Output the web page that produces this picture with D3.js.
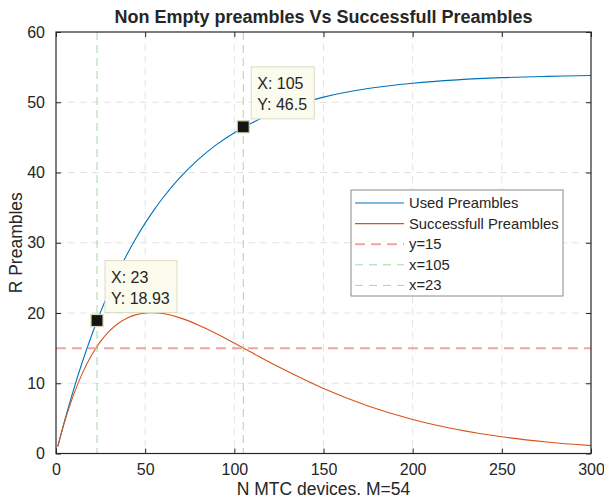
<!DOCTYPE html>
<html><head><meta charset="utf-8">
<script src="https://cdn.jsdelivr.net/npm/d3@7"></script>
<style>body{margin:0;background:#fff}svg{display:block}text{font-family:"Liberation Sans",Arial,sans-serif;fill:#262626}</style>
</head><body><svg id="c" width="604" height="501"></svg>
<script>
// ---- data ----
const nDevices = [1,5,10,15,20,25,30,35,40,45,50,55,60,70,80,90,100,110,125,150,175,200,225,250,275,300];
const usedPreambles = [1.00,4.82,9.21,13.20,16.84,20.16,23.18,25.93,28.43,30.71,32.79,34.68,36.41,39.41,41.90,43.96,45.67,47.09,48.78,50.73,51.95,52.71,53.19,53.50,53.68,53.80];
const successPreambles = [1.00,4.64,8.45,11.55,14.02,15.96,17.45,18.54,19.30,19.77,20.01,20.04,19.92,19.27,18.27,17.05,15.72,14.34,12.31,9.26,6.77,4.85,3.42,2.38,1.64,1.12];
const xTicks = [0,50,100,150,200,250,300];
const yTicks = [0,10,20,30,40,50,60];
const refY = 15;
const refX = [105, 23];
const dataTips = [{x:23, y:18.93, lx:"X: 23", ly:"Y: 18.93"},{x:105, y:46.5, lx:"X: 105", ly:"Y: 46.5"}];
const legendLabels = ["Used Preambles","Successfull Preambles","y=15","x=105","x=23"];

// ---- layout ----
const L=56, R=591, T=32, B=453.5;
const svg = d3.select("#c");
const x = d3.scaleLinear().domain([0,300]).range([L,R]);
const y = d3.scaleLinear().domain([0,60]).range([B,T]);

svg.append("defs").append("clipPath").attr("id","clip").append("rect")
  .attr("x",L).attr("y",T).attr("width",R-L).attr("height",B-T);

// grid
const g = svg.append("g");
g.selectAll(".gx").data(xTicks.slice(1,-1)).join("line")
  .attr("x1",d=>x(d)).attr("x2",d=>x(d)).attr("y1",T).attr("y2",B)
  .attr("stroke","#e3e3e3").attr("stroke-dasharray","7,5");
g.selectAll(".gy").data(yTicks.slice(1,-1)).join("line")
  .attr("y1",d=>y(d)).attr("y2",d=>y(d)).attr("x1",L).attr("x2",R)
  .attr("stroke","#e3e3e3").attr("stroke-dasharray","7,5");

const plot = svg.append("g").attr("clip-path","url(#clip)");
const line = d3.line().x((d,i)=>x(nDevices[i])).y(d=>y(d)).curve(d3.curveCatmullRom);
plot.append("path").datum(usedPreambles).attr("d",line).attr("fill","none").attr("stroke","#0072BD").attr("stroke-width",1.1);
plot.append("path").datum(successPreambles).attr("d",line).attr("fill","none").attr("stroke","#D95319").attr("stroke-width",1.1);

// reference lines
plot.append("line").attr("x1",L).attr("x2",R).attr("y1",y(refY)).attr("y2",y(refY))
  .attr("stroke","#f4a3a3").attr("stroke-width",2).attr("stroke-dasharray","10,6");
plot.selectAll(".rx").data(refX).join("line")
  .attr("x1",d=>x(d)).attr("x2",d=>x(d)).attr("y1",T).attr("y2",B)
  .attr("stroke","#8fcf8f").attr("stroke-width",0.8).attr("stroke-dasharray","8,5");

// axes
const ax = svg.append("g");
const tl = 5;
ax.append("g").attr("transform",`translate(0,${B})`).call(d3.axisBottom(x).tickValues(xTicks).tickSizeInner(-tl).tickSizeOuter(0).tickPadding(10))
  .call(s=>{s.select(".domain").remove();s.selectAll("text").attr("font-size","16px").attr("fill","#262626").attr("font-family","Liberation Sans, Arial");s.selectAll("line").attr("stroke","#262626");});
ax.append("g").attr("transform",`translate(0,${T})`).call(d3.axisTop(x).tickValues(xTicks).tickSizeInner(-tl).tickSizeOuter(0).tickFormat(""))
  .call(s=>{s.select(".domain").remove();s.selectAll("line").attr("stroke","#262626");});
ax.append("g").attr("transform",`translate(${L},0)`).call(d3.axisLeft(y).tickValues(yTicks).tickSizeInner(-tl).tickSizeOuter(0).tickPadding(11))
  .call(s=>{s.select(".domain").remove();s.selectAll("text").attr("font-size","16px").attr("fill","#262626").attr("font-family","Liberation Sans, Arial");s.selectAll("line").attr("stroke","#262626");});
ax.append("g").attr("transform",`translate(${R},0)`).call(d3.axisRight(y).tickValues(yTicks).tickSizeInner(-tl).tickSizeOuter(0).tickFormat(""))
  .call(s=>{s.select(".domain").remove();s.selectAll("line").attr("stroke","#262626");});
svg.append("rect").attr("x",L).attr("y",T).attr("width",R-L).attr("height",B-T)
  .attr("fill","none").attr("stroke","#262626").attr("stroke-width",1.2);

// titles
svg.append("text").attr("x",(L+R)/2).attr("y",23).attr("text-anchor","middle")
  .attr("font-size","18px").attr("font-weight","bold").text("Non Empty preambles Vs Successfull Preambles");
svg.append("text").attr("x",(L+R)/2).attr("y",495).attr("text-anchor","middle")
  .attr("font-size","17.5px").text("N MTC devices. M=54");
svg.append("text").attr("transform",`translate(22,${(T+B)/2}) rotate(-90)`).attr("text-anchor","middle")
  .attr("font-size","17.5px").text("R Preambles");

// legend
const leg = svg.append("g");
leg.append("rect").attr("x",351).attr("y",190).attr("width",212).attr("height",106)
  .attr("fill","#fff").attr("stroke","#8a8a8a").attr("stroke-width",1);
const legStyles = [
  {c:"#0072BD",w:1.1,d:null},{c:"#D95319",w:1.1,d:null},
  {c:"#f4a3a3",w:2,d:"10,6"},{c:"#8fcf8f",w:0.8,d:"8,6"},{c:"#8fcf8f",w:0.8,d:"8,6"}];
legendLabels.forEach((lab,i)=>{
  const yy = 203 + i*20.6;
  const st = legStyles[i];
  leg.append("line").attr("x1",355).attr("x2",404).attr("y1",yy).attr("y2",yy)
    .attr("stroke",st.c).attr("stroke-width",st.w).attr("stroke-dasharray",st.d);
  leg.append("text").attr("x",409).attr("y",yy+5).attr("font-size","14.8px").text(lab);
});

// data tips
dataTips.forEach(dt=>{
  const px = x(dt.x), py = y(dt.y);
  const w = dt.lx.length>5 ? 63 : 72;
  const bx = px+8, by = py-60;
  svg.append("rect").attr("x",bx).attr("y",by).attr("width",w).attr("height",52)
    .attr("fill","#fbfbee").attr("stroke","#dcdcc4").attr("stroke-width",1);
  svg.append("text").attr("x",bx+6).attr("y",by+22).attr("font-size","16px").text(dt.lx);
  svg.append("text").attr("x",bx+6).attr("y",by+43).attr("font-size","16px").text(dt.ly);
  svg.append("rect").attr("x",px-6).attr("y",py-6).attr("width",12).attr("height",12)
    .attr("fill","#151515").attr("stroke","#d6d6b0").attr("stroke-width",1.2);
});
</script></body></html>
